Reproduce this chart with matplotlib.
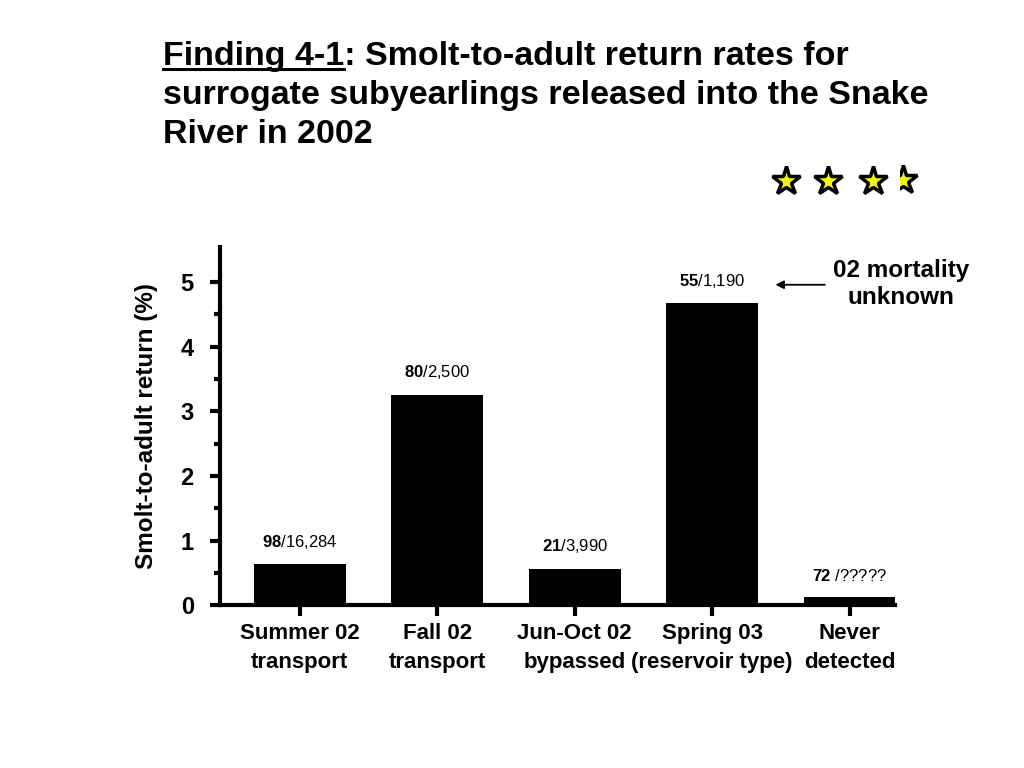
import matplotlib
matplotlib.use("Agg")
import matplotlib.pyplot as plt
from matplotlib.patches import Rectangle
import numpy as np

plt.rcParams['font.family'] = ['Liberation Sans', 'DejaVu Sans']
plt.rcParams['mathtext.fontset'] = 'custom'
plt.rcParams['mathtext.rm'] = 'Liberation Sans'
plt.rcParams['mathtext.bf'] = 'Liberation Sans:bold'

categories = ["Summer 02\ntransport", "Fall 02\ntransport", "Jun-Oct 02\nbypassed",
              "Spring 03\n(reservoir type)", "Never\ndetected"]
values = [0.63, 3.25, 0.56, 4.67, 0.12]
adults = ["98", "80", "21", "55", "72"]
released = ["16,284", "2,500", "3,990", "1,190", "?????"]
yticks = [0, 1, 2, 3, 4, 5]

fig = plt.figure(figsize=(10.24, 7.68), dpi=100)
ax = fig.add_axes([0.215, 0.212, 0.659, 0.466])

x = np.arange(len(categories))
ax.bar(x, values, width=0.67, color='black')
ax.set_xlim(-0.58, 4.33)
ax.set_ylim(0, 5.54)

for s in ['top', 'right']:
    ax.spines[s].set_visible(False)
for s in ['left', 'bottom']:
    ax.spines[s].set_linewidth(3)

ax.set_yticks(yticks)
ax.set_yticklabels([str(t) for t in yticks], fontsize=17, fontweight='bold')
ax.set_yticks(np.arange(0.5, 5.5, 1.0), minor=True)
ax.tick_params(axis='y', which='major', length=7, width=3, direction='out', pad=12)
ax.tick_params(axis='y', which='minor', length=4, width=3, direction='out')
ax.set_xticks(x)
ax.set_xticklabels(categories, fontsize=16, fontweight='bold', linespacing=1.5)
ax.tick_params(axis='x', which='major', length=8, width=3, direction='out', pad=5)
ax.set_ylabel("Smolt-to-adult return (%)", fontsize=17.5, fontweight='bold', labelpad=16)

for xi, v, a, r in zip(x, values, adults, released):
    sep = " /" if r.startswith("?") else "/"
    ax.annotate(r"$\mathbf{%s}$%s%s" % (a, sep, r),
                xy=(xi, v), xytext=(0, 10), textcoords='offset points',
                ha='center', va='bottom', fontsize=12)

# arrow and note
ax.annotate("", xy=(3.44, 4.96), xytext=(3.84, 4.96),
            arrowprops=dict(arrowstyle='-|>', color='black', lw=1.3, mutation_scale=12))
fig.text(0.880, 0.630, "02 mortality\nunknown", ha='center', va='center',
         fontsize=17.5, fontweight='bold', linespacing=1.25)

# title
fs = 24.5
t1 = fig.text(0.159, 0.926, "Finding 4-1", fontsize=fs, fontweight='bold', va='center', ha='left', alpha=0)
fig.text(0.159, 0.926, "Finding 4-1: Smolt-to-adult return rates for", fontsize=fs,
         fontweight='bold', va='center', ha='left')
fig.text(0.159, 0.876, "surrogate subyearlings released into the Snake", fontsize=fs,
         fontweight='bold', va='center', ha='left')
fig.text(0.159, 0.825, "River in 2002", fontsize=fs, fontweight='bold', va='center', ha='left')
fig.canvas.draw()
bb = t1.get_window_extent(renderer=fig.canvas.get_renderer())
inv = fig.transFigure.inverted()
(x0, y0), (x1, y1) = inv.transform([[bb.x0, bb.y0], [bb.x1, bb.y1]])
fig.add_artist(plt.Line2D([x0, x1], [y0 + 0.004, y0 + 0.004], color='black', lw=2.2,
                          transform=fig.transFigure))

# stars
sx = [0.768, 0.809, 0.853]
for s in sx:
    fig.lines.append(plt.Line2D([s], [0.764], marker='*', markersize=21, color='#f5f50a',
                                markeredgecolor='black', markeredgewidth=2.5,
                                transform=fig.transFigure))
half = plt.Line2D([0.882], [0.766], marker='*', markersize=21, color='#f5f50a',
                  markeredgecolor='black', markeredgewidth=2.5, transform=fig.transFigure)
clip = Rectangle((0.879, 0.70), 0.05, 0.12, transform=fig.transFigure)
half.set_clip_path(clip)
fig.lines.append(half)

fig.savefig("out.png", dpi=100)
